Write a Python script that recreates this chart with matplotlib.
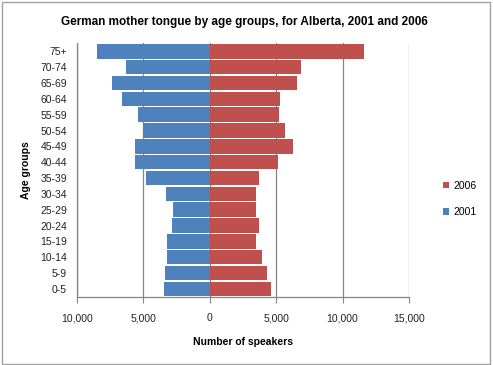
import matplotlib
matplotlib.use("Agg")
import matplotlib.pyplot as plt
from matplotlib.patches import Rectangle
from matplotlib.ticker import FuncFormatter
import numpy as np

# age groups, bottom to top
ages = ["0-5", "5-9", "10-14", "15-19", "20-24", "25-29", "30-34", "35-39",
        "40-44", "45-49", "50-54", "55-59", "60-64", "65-69", "70-74", "75+"]
speakers_2001 = [3400, 3320, 3170, 3170, 2800, 2720, 3250, 4750,
                 5650, 5650, 5050, 5420, 6620, 7370, 6320, 8500]
speakers_2006 = [4600, 4300, 3925, 3475, 3700, 3475, 3475, 3700,
                 5125, 6250, 5650, 5200, 5300, 6550, 6850, 11650]
x_ticks = [-10000, -5000, 0, 5000, 10000, 15000]

blue = "#4F81BD"
red = "#C0504D"
grid_col = "#868686"

plt.rcParams["font.family"] = ["Liberation Sans", "DejaVu Sans"]

fig = plt.figure(figsize=(4.93, 3.65), dpi=100)
ax = fig.add_axes([0.1556, 0.187, 0.674, 0.694])

y = np.arange(len(ages))
ax.barh(y, -np.array(speakers_2001), height=0.92, color=blue, label="2001", zorder=3)
ax.barh(y, speakers_2006, height=0.92, color=red, label="2006", zorder=3)

ax.set_xlim(-10000, 15000)
ax.set_ylim(-0.5, len(ages) - 0.5)
ax.set_xticks(x_ticks)
ax.xaxis.set_major_formatter(FuncFormatter(lambda v, p: f"{abs(int(v)):,}"))
ax.set_yticks(y)
ax.set_yticklabels(ages)
ax.tick_params(axis="y", length=0, pad=7, labelsize=7.5, colors="#222222")
ax.tick_params(axis="x", length=4, direction="out", colors=grid_col,
               labelcolor="#222222", labelsize=7.5, pad=8)
ax.grid(axis="x", color=grid_col, linewidth=0.9, zorder=0)

for side in ["top", "right"]:
    ax.spines[side].set_visible(False)
for side in ["left", "bottom"]:
    ax.spines[side].set_color(grid_col)
    ax.spines[side].set_linewidth(0.9)

ax.set_xlabel("Number of speakers", fontsize=7.5, fontweight="bold", labelpad=10)
ax.set_ylabel("Age groups", fontsize=7.5, fontweight="bold")
ax.yaxis.set_label_coords(-0.138, 0.5)

fig.suptitle("German mother tongue by age groups, for Alberta, 2001 and 2006",
             x=0.495, y=0.955, fontsize=8.5, fontweight="bold")

handles, labels = ax.get_legend_handles_labels()
leg = fig.legend(handles[::-1], labels[::-1], loc="center left",
                 bbox_to_anchor=(0.88, 0.455), frameon=False, fontsize=7.5,
                 handlelength=0.6, handleheight=0.6, handletextpad=0.4,
                 labelspacing=1.6)

# outer chart border
fig.patches.append(Rectangle((0.004, 0.004), 0.99, 0.99, transform=fig.transFigure,
                             fill=False, edgecolor="#a0a0a0", linewidth=1.0))

fig.savefig("out.png", dpi=100)
